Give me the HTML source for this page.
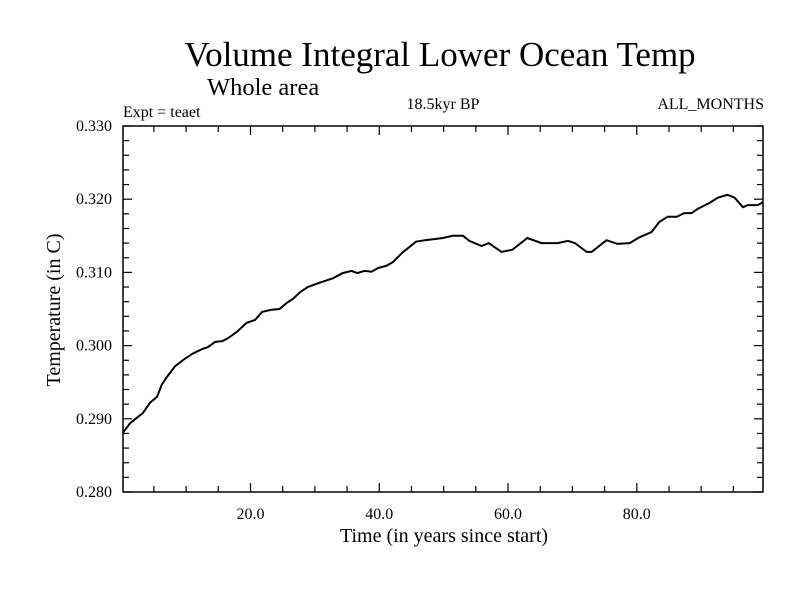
<!DOCTYPE html>
<html><head><meta charset="utf-8"><style>
body{margin:0;background:#fff;}
svg text{font-family:"Liberation Serif",serif;fill:#000;}
</style></head><body>
<svg id="chart" width="800" height="600" xmlns="http://www.w3.org/2000/svg">
<rect width="800" height="600" fill="#fff"/>
<text x="440" y="66" font-size="35" text-anchor="middle">Volume Integral Lower Ocean Temp</text>
<text x="207" y="95" font-size="24.5">Whole area</text>
<text x="123" y="117" font-size="16">Expt = teaet</text>
<text x="443" y="109" font-size="16" text-anchor="middle">18.5kyr BP</text>
<text x="764" y="109" font-size="16" text-anchor="end">ALL_MONTHS</text>
<text transform="translate(60,310) rotate(-90)" font-size="20" text-anchor="middle">Temperature (in C)</text>
<text x="444" y="542" font-size="20" text-anchor="middle">Time (in years since start)</text>
<g id="axes"></g>
<path id="series" fill="none" stroke="#000" stroke-width="2"/>
<rect x="123" y="126" width="640" height="366" fill="none" stroke="#000" stroke-width="1.5"/>
</svg>
<script>
const years=[0.2,1.3,3.3,4.4,5.5,6.2,7.0,8.3,9.8,11.0,12.4,13.4,14.5,15.6,16.5,17.9,19.4,20.7,21.8,23.3,24.5,25.6,26.6,27.7,28.9,30.8,32.8,34.3,35.7,36.6,37.7,38.8,39.8,41.1,42.1,43.6,45.7,47.1,49.9,51.4,53.0,54.0,55.9,57.0,59.0,60.7,63.0,65.2,67.7,69.3,70.4,72.2,73.0,75.3,77.0,78.9,80.4,82.3,83.5,84.8,86.2,87.4,88.5,89.5,91.3,92.6,94.1,95.2,96.5,97.2,98.8,99.6];
const temps=[0.2881,0.2894,0.2908,0.2922,0.2930,0.2946,0.2957,0.2972,0.2982,0.2989,0.2995,0.2998,0.3005,0.3006,0.3010,0.3019,0.3031,0.3035,0.3046,0.3049,0.3050,0.3058,0.3064,0.3073,0.3080,0.3086,0.3092,0.3099,0.3102,0.3099,0.3102,0.3101,0.3106,0.3109,0.3114,0.3127,0.3142,0.3144,0.3147,0.3150,0.3150,0.3143,0.3136,0.3140,0.3128,0.3131,0.3147,0.3140,0.3140,0.3143,0.3140,0.3128,0.3128,0.3144,0.3139,0.3140,0.3148,0.3155,0.3169,0.3176,0.3176,0.3181,0.3181,0.3187,0.3195,0.3202,0.3206,0.3202,0.3189,0.3192,0.3192,0.3196];
const xTicks=[20,40,60,80];
const xTickLabels=["20.0","40.0","60.0","80.0"];
const yTicks=[0.28,0.29,0.30,0.31,0.32,0.33];
const yTickLabels=["0.280","0.290","0.300","0.310","0.320","0.330"];
const X0=123,X1=763,Y0=126,Y1=492,xMin=0.2,xMax=99.6,yMin=0.28,yMax=0.33;
const sx=v=>X0+(v-xMin)/(xMax-xMin)*(X1-X0);
const sy=v=>Y1-(v-yMin)/(yMax-yMin)*(Y1-Y0);
const NS="http://www.w3.org/2000/svg";
const g=document.getElementById('axes');
function line(x1,y1,x2,y2,name){const l=document.createElementNS(NS,'line');
l.setAttribute('x1',x1);l.setAttribute('y1',y1);l.setAttribute('x2',x2);l.setAttribute('y2',y2);
l.setAttribute('stroke','#000');l.setAttribute('stroke-width','1.2');


g.appendChild(l);}
function txt(x,y,s,anchor,name){const t=document.createElementNS(NS,'text');
t.setAttribute('x',x);t.setAttribute('y',y);t.setAttribute('font-size','16');t.setAttribute('text-anchor',anchor);t.textContent=s;


g.appendChild(t);}
for(let v=5;v<xMax;v+=5){const x=sx(v);const major=v%20===0;const L=major?9:6;
line(x,Y1,x,Y1-L,'x-tick');line(x,Y0,x,Y0+L,'x-tick');}
for(let i=0;i<=25;i++){const v=yMin+i*0.002;const y=sy(v);const major=i%5===0;const L=major?9:6;
line(X0,y,X0+L,y,'y-tick');line(X1,y,X1-L,y,'y-tick');}
xTicks.forEach((v,i)=>txt(sx(v),519,xTickLabels[i],'middle','x-tick-label'));
yTicks.forEach((v,i)=>txt(112,sy(v)+5,yTickLabels[i],'end','y-tick-label'));
document.getElementById('series').setAttribute('d',years.map((v,i)=>(i?'L':'M')+sx(v).toFixed(1)+','+sy(temps[i]).toFixed(1)).join(''));
</script>
</body></html>
